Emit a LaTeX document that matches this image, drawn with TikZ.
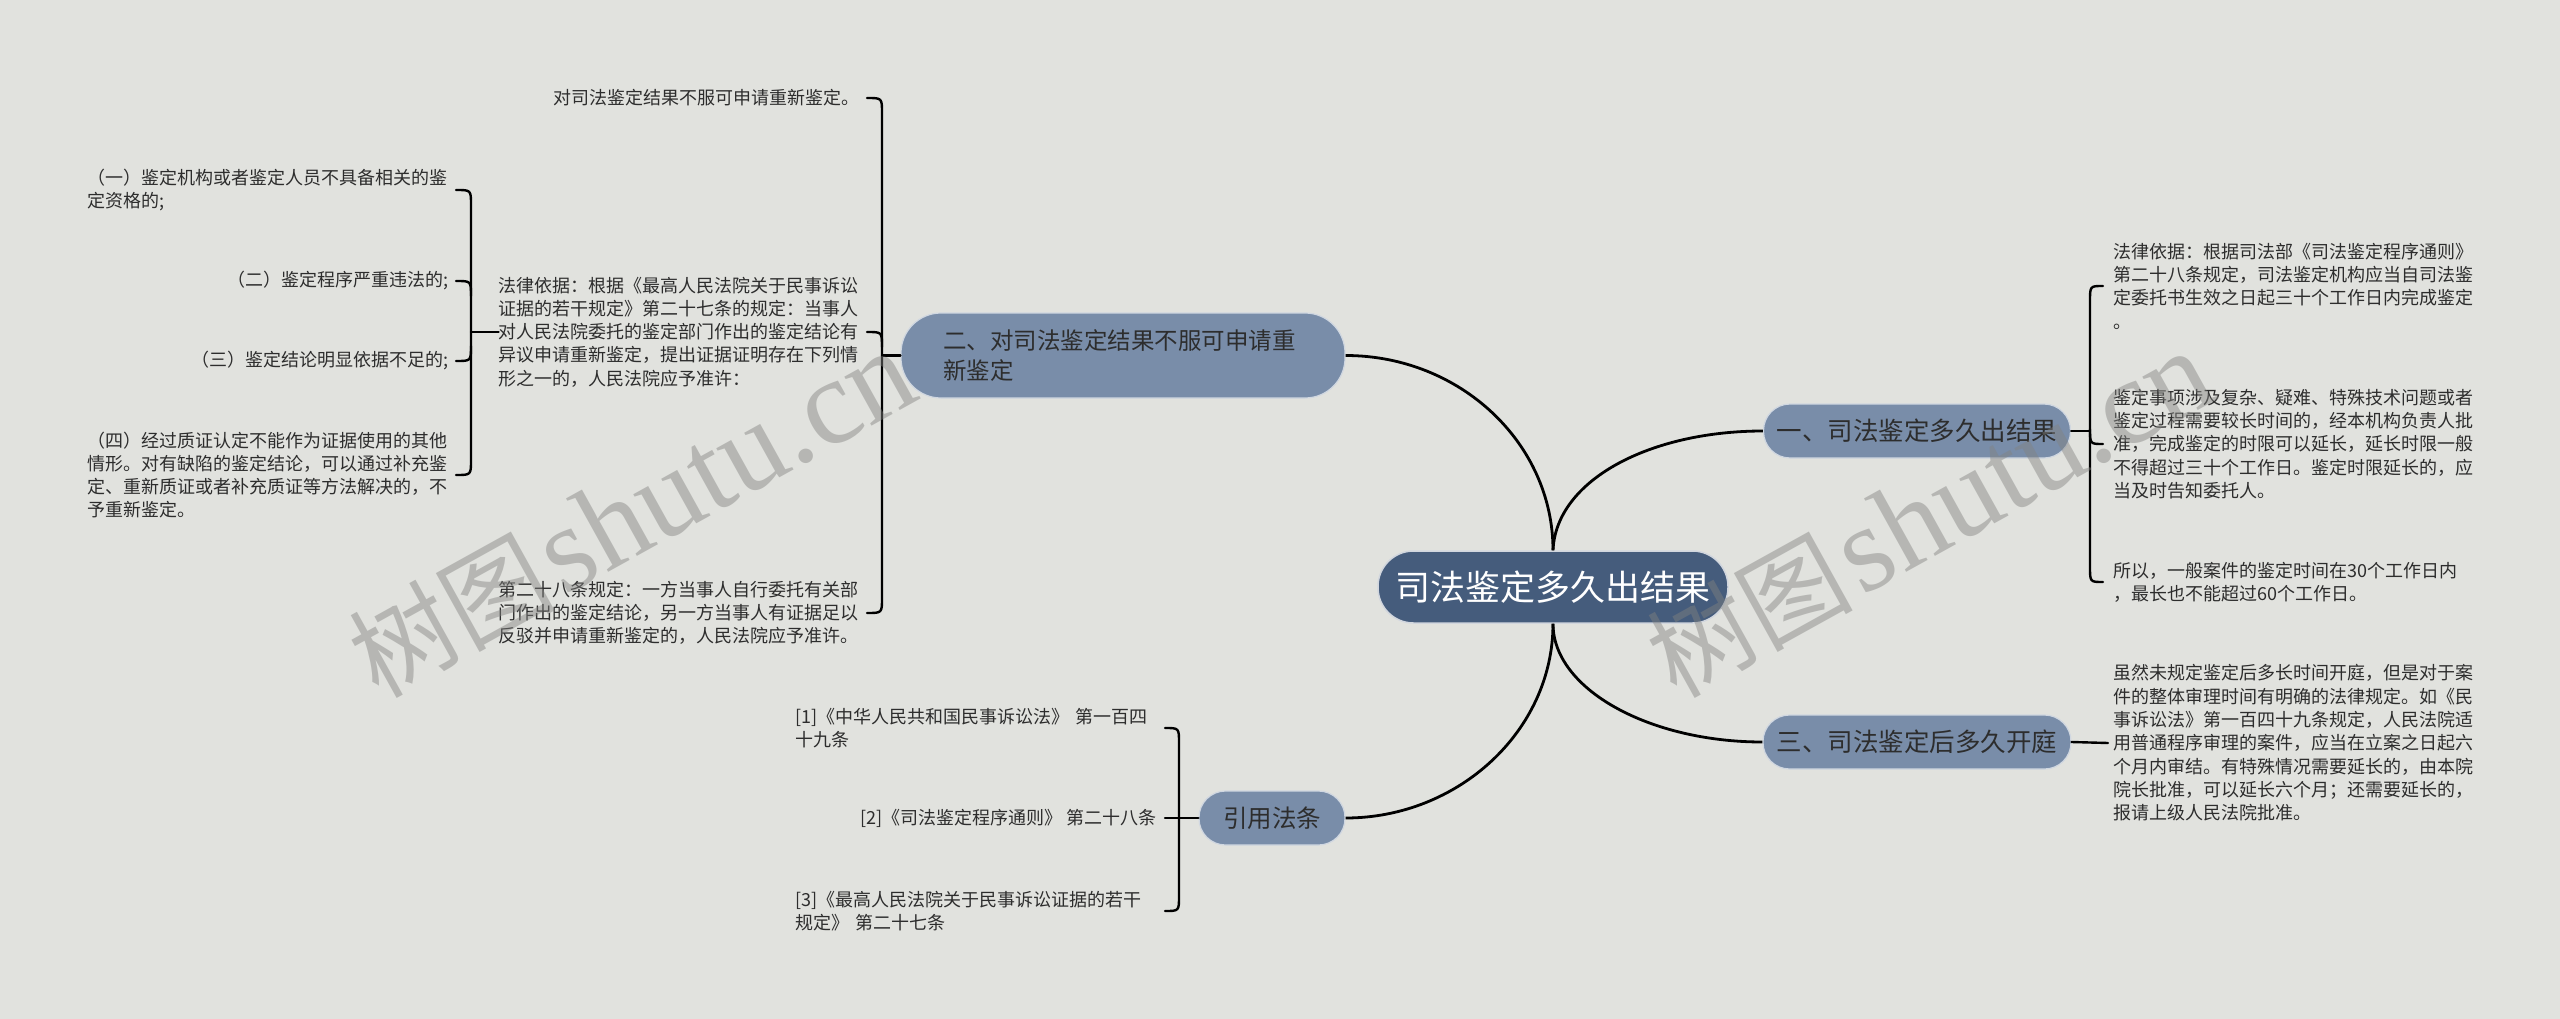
\documentclass[tikz,border=0pt]{standalone}
\usepackage{fontspec}
\setmainfont{Noto Sans CJK SC}
\newfontfamily\wmserif{Liberation Serif}
\usetikzlibrary{calc}
\definecolor{bgc}{RGB}{225,226,222}
\definecolor{rootc}{RGB}{69,92,124}
\definecolor{brc}{RGB}{121,141,169}
\definecolor{txt}{RGB}{45,45,45}
\definecolor{wmc}{RGB}{130,130,128}
\begin{document}
\begin{tikzpicture}[x=1pt,y=-1pt,
  rootnode/.style={rectangle, rounded corners=35.5pt, fill=rootc, draw=white!75!rootc, line width=1.5pt, minimum width=350pt, minimum height=72pt, inner sep=0pt, text=white, font=\fontsize{35}{40}\selectfont},
  branch/.style={rectangle, rounded corners=26.5pt, fill=brc, draw=white!65!brc, line width=1.2pt, minimum height=54pt, inner sep=0pt, text=txt},
  leaf/.style={inner sep=0pt, text=txt, align=left, font=\fontsize{18}{23.3}\selectfont},
  wrapl/.style={leaf, text width=361pt, anchor=east},
  conn/.style={draw=black, line width=2.8pt},
  bracel/.style={draw=black, line width=2.4pt, line cap=round},
  wmcn/.style={text=wmc, opacity=0.45, rotate=29, inner sep=0pt, anchor=base west, font=\fontsize{103}{105}\selectfont},
  wmlat/.style={text=wmc, opacity=0.45, rotate=29, inner sep=0pt, anchor=base west, font=\wmserif\fontsize{122}{122}\selectfont}
]
\useasboundingbox (0,0) rectangle (2560,1019);
\fill[bgc] (0,0) rectangle (2560,1019);

% main nodes
\node[rootnode] (root) at (1553,587) {司法鉴定多久出结果};
\node[branch, minimum width=307pt, font=\fontsize{25.5}{30}\selectfont] (b1) at (1917,431) {一、司法鉴定多久出结果};
\node[branch, minimum width=444pt, minimum height=85pt, rounded corners=40pt, text width=360pt, align=left, font=\fontsize{23.5}{30}\selectfont] (b2) at (1123,355.5) {二、对司法鉴定结果不服可申请重\\新鉴定};
\node[branch, minimum width=308pt, font=\fontsize{25.5}{30}\selectfont] (b3) at (1917,742) {三、司法鉴定后多久开庭};
\node[branch, minimum width=146pt, font=\fontsize{24.5}{30}\selectfont] (b4) at (1272,818) {引用法条};

% connectors root -> branches
\draw[conn] (root.north) .. controls (1556,480) and (1650,431) .. (b1.west);
\draw[conn] (root.north) .. controls (1553,443) and (1460,355.5) .. (b2.east);
\draw[conn] (root.south) .. controls (1553,689) and (1649,742) .. (b3.west);
\draw[conn] (root.south) .. controls (1553,731) and (1458,818) .. (b4.east);

% branch 二 children
\node[leaf, anchor=east] (c21) at (860,98) {对司法鉴定结果不服可申请重新鉴定。};
\node[wrapl] (c22) at (860,332) {法律依据：根据《最高人民法院关于民事诉讼\\证据的若干规定》第二十七条的规定：当事人\\对人民法院委托的鉴定部门作出的鉴定结论有\\异议申请重新鉴定，提出证据证明存在下列情\\形之一的，人民法院应予准许：};
\node[wrapl] (c23) at (860,613) {第二十八条规定：一方当事人自行委托有关部\\门作出的鉴定结论，另一方当事人有证据足以\\反驳并申请重新鉴定的，人民法院应予准许。};
\coordinate (k1) at (882,355.5);
\draw[bracel] (b2.west) -- (k1);
\draw[bracel] ($(c21.east)+(7,0)$) .. controls (882,98) .. (882,113) -- (882,598) .. controls (882,613) .. ($(c23.east)+(7,0)$);
\draw[bracel] ($(c22.east)+(7,0)$) .. controls (882,332) .. (882,347);

% 法律依据 children
\node[wrapl] (d1) at (449,190) {（一）鉴定机构或者鉴定人员不具备相关的鉴\\定资格的;};
\node[leaf, anchor=east] (d2) at (449,281) {（二）鉴定程序严重违法的;};
\node[leaf, anchor=east] (d3) at (449,361) {（三）鉴定结论明显依据不足的;};
\node[wrapl] (d4) at (449,475) {（四）经过质证认定不能作为证据使用的其他\\情形。对有缺陷的鉴定结论，可以通过补充鉴\\定、重新质证或者补充质证等方法解决的，不\\予重新鉴定。};
\coordinate (k2) at (471,332);
\draw[bracel] (c22.west) -- (k2);
\draw[bracel] ($(d1.east)+(7,0)$) .. controls (471,190) .. (471,205) -- (471,460) .. controls (471,475) .. ($(d4.east)+(7,0)$);
\draw[bracel] ($(d2.east)+(7,0)$) .. controls (471,281) .. (471,296);
\draw[bracel] ($(d3.east)+(7,0)$) .. controls (471,361) .. (471,346);

% branch 一 children
\node[leaf, anchor=west] (e1) at (2113,286) {法律依据：根据司法部《司法鉴定程序通则》\\第二十八条规定，司法鉴定机构应当自司法鉴\\定委托书生效之日起三十个工作日内完成鉴定\\。};
\node[leaf, anchor=west] (e2) at (2113,444) {鉴定事项涉及复杂、疑难、特殊技术问题或者\\鉴定过程需要较长时间的，经本机构负责人批\\准，完成鉴定的时限可以延长，延长时限一般\\不得超过三十个工作日。鉴定时限延长的，应\\当及时告知委托人。};
\node[leaf, anchor=west] (e3) at (2113,582) {所以，一般案件的鉴定时间在30个工作日内\\，最长也不能超过60个工作日。};
\coordinate (k3) at (2090,431);
\draw[bracel] (b1.east) -- (k3);
\draw[bracel] ($(e1.west)+(-10,0)$) .. controls (2090,286) .. (2090,301) -- (2090,567) .. controls (2090,582) .. ($(e3.west)+(-10,0)$);
\draw[bracel] ($(e2.west)+(-10,0)$) .. controls (2090,444) .. (2090,429);

% branch 三 child
\node[leaf, anchor=west] (f1) at (2113,743) {虽然未规定鉴定后多长时间开庭，但是对于案\\件的整体审理时间有明确的法律规定。如《民\\事诉讼法》第一百四十九条规定，人民法院适\\用普通程序审理的案件，应当在立案之日起六\\个月内审结。有特殊情况需要延长的，由本院\\院长批准，可以延长六个月；还需要延长的，\\报请上级人民法院批准。};
\draw[bracel] (b3.east) -- ($(f1.west)+(-5,0)$);

% 引用法条 children
\node[wrapl] (g1) at (1157,728) {[1]《中华人民共和国民事诉讼法》 第一百四\\十九条};
\node[leaf, anchor=east] (g2) at (1157,818) {[2]《司法鉴定程序通则》 第二十八条};
\node[wrapl] (g3) at (1157,911) {[3]《最高人民法院关于民事诉讼证据的若干\\规定》 第二十七条};
\draw[bracel] (b4.west) -- ($(g2.east)+(8,0)$);
\draw[bracel] ($(g1.east)+(8,0)$) .. controls (1179,728) .. (1179,743) -- (1179,896) .. controls (1179,911) .. ($(g3.east)+(8,0)$);

% watermarks
\node[wmcn] (wm1a) at (378,700) {树图};
\node[wmlat] (wm1b) at ($(wm1a.base east)+(6,-3)$) {shutu.cn};
\node[wmcn] (wm2a) at (1676,700) {树图};
\node[wmlat] (wm2b) at ($(wm2a.base east)+(6,-3)$) {shutu.cn};
\end{tikzpicture}
\end{document}
